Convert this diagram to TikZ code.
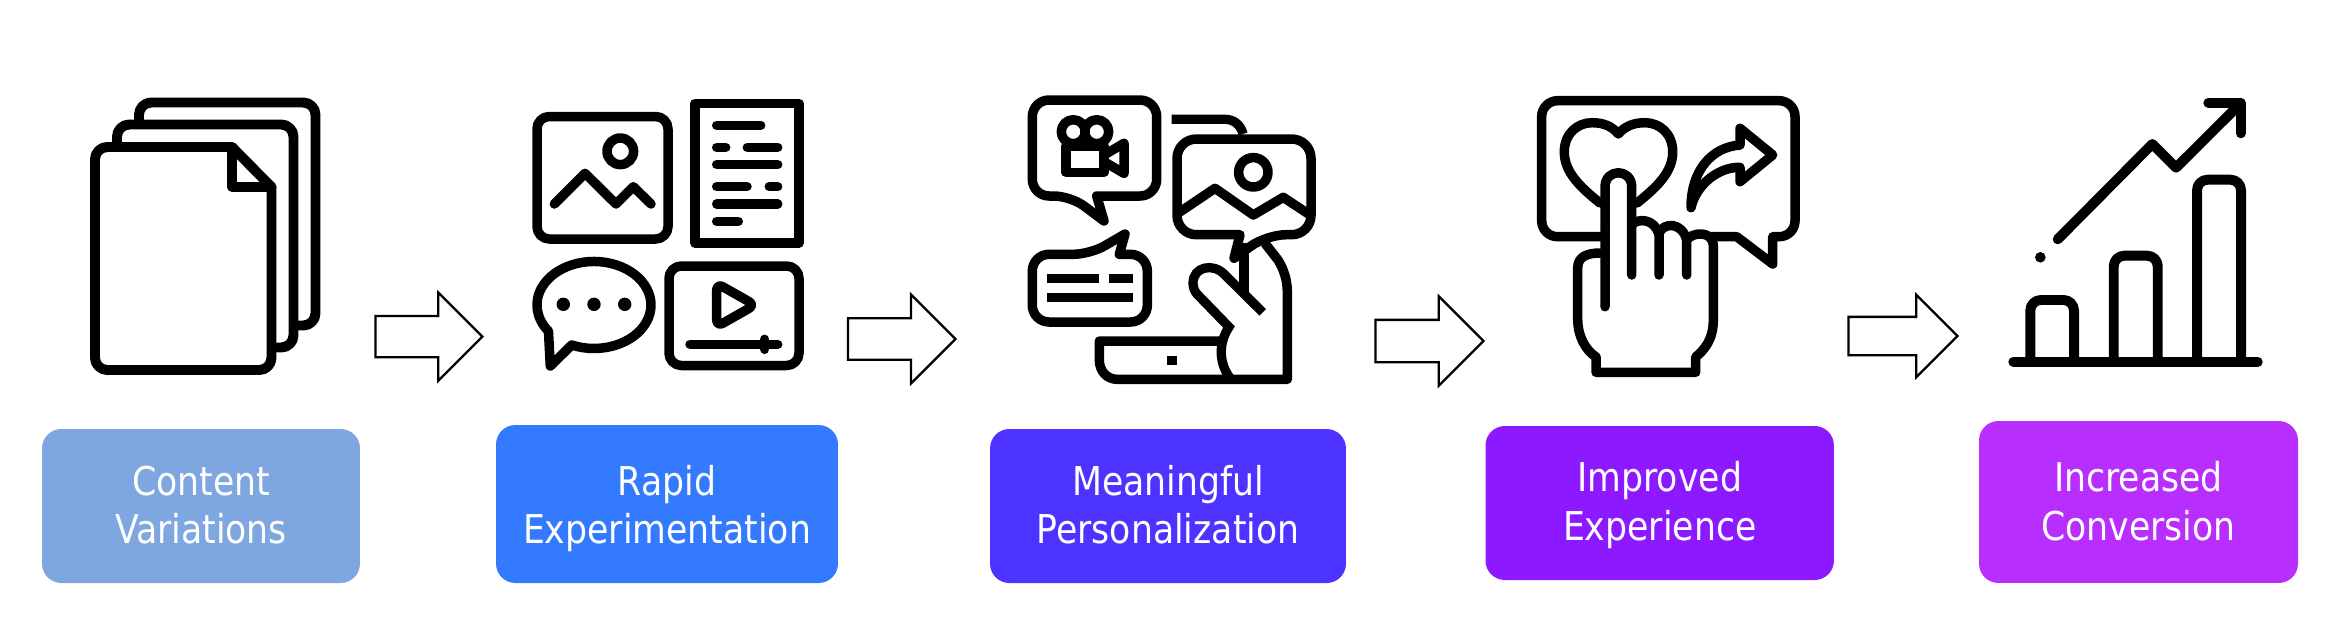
\documentclass[tikz,border=0pt]{standalone}
\usepackage{fontspec}
\setmainfont{DejaVu Sans}[FakeStretch=0.873]
\usetikzlibrary{shapes.arrows}
\definecolor{labA}{HTML}{7EA6E0}
\definecolor{labB}{HTML}{337AFF}
\definecolor{labC}{HTML}{4D33FF}
\definecolor{labD}{HTML}{8C19FF}
\definecolor{labE}{HTML}{B82EFF}
\newcommand{\twolines}[3]{\rule{0pt}{#1}#2\\\rule[-0.2cm]{0pt}{0.3cm}#3}
\begin{document}
\begin{tikzpicture}[x=0.02cm, y=-0.02cm,
  lab/.style={rounded corners=11pt, inner sep=0pt, align=center, text=white,
              font=\fontsize{22.6}{27.8}\selectfont},
  blk/.style={single arrow, draw, fill=white, line width=1.3pt, inner xsep=0pt,
              inner ysep=0.39cm, anchor=tip, single arrow head extend=0.47cm,
              minimum height=2.16cm, minimum width=1.78cm},
  ico/.style={line width=5.4pt, line join=round, line cap=round},
  thick ico/.style={line width=5.67pt, line join=round, line cap=round},
  bar ico/.style={line width=5.3pt, line join=miter, line cap=butt}]
  \useasboundingbox (0,0) rectangle (2328,620);
  \node[lab, fill=labA, minimum width=6.36cm, minimum height=3.08cm] (content) at (201,506) {\twolines{0.74cm}{Content}{Variations}};
  \node[lab, fill=labB, minimum width=6.84cm, minimum height=3.16cm] (rapid) at (667,504) {\twolines{0.82cm}{Rapid}{Experimentation}};
  \node[lab, fill=labC, minimum width=7.12cm, minimum height=3.08cm] (meaning) at (1168,506) {\twolines{0.74cm}{Meaningful}{Personalization}};
  \node[lab, fill=labD, minimum width=6.97cm, minimum height=3.08cm] (improved) at (1659.7,503) {\twolines{0.73cm}{Improved}{Experience}};
  \node[lab, fill=labE, minimum width=6.38cm, minimum height=3.24cm] (increased) at (2138.5,502) {\twolines{0.77cm}{Increased}{Conversion}};

  \node[blk, minimum height=2.14cm, minimum width=1.76cm] (arrA) at (484,336.7) {};
  \node[blk, minimum height=2.15cm] (arrB) at (957,339) {};
  \node[blk, inner ysep=0.4cm] (arrC) at (1485,341) {};
  \node[blk, inner ysep=0.36cm, minimum height=2.18cm, minimum width=1.64cm, single arrow head extend=0.44cm] (arrD) at (1959,336) {};

  % pages
  \begin{scope}[thick ico, rounded corners=7pt, fill=white]
    \draw[fill=white] (139,102.5) rectangle (315.5,325.5);
    \draw[fill=white] (117,124.5) rectangle (293.5,347.5);
    \draw[fill=white] (232,147) -- (95,147) -- (95,370) -- (271.5,370) [sharp corners] -- (271.5,187) -- cycle;
    \draw[sharp corners] (231.7,147) -- (231.7,186.7) -- (271.5,186.7);
  \end{scope}

  % media grid
  \begin{scope}[ico]
    \draw[rounded corners=7pt] (537,116.5) rectangle (668,239);
    \draw (620.3,151.3) circle[radius=13.3];
    \draw (554.3,204) -- (585,173.3) -- (616,204) -- (633.3,186.7) -- (651,204);
    \draw (695,103.5) rectangle (799,243);
    \draw (716.7,125.3) -- (760.7,125.3);
    \draw (716.7,147.3) -- (725.7,147.3) (747.3,147.3) -- (777.7,147.3);
    \draw (716.7,164.7) -- (777.7,164.7);
    \draw (716.7,186.7) -- (747,186.7) (769.3,186.7) -- (777.7,186.7);
    \draw (716.7,204) -- (777.7,204);
    \draw (716.7,221.3) -- (738.3,221.3);
    \draw (550.3,366) -- (571.7,345) arc[start angle=113, end angle=-217, x radius=57, y radius=43.5] -- cycle;
    \fill (563.3,304.3) circle[radius=6.7] (594,304.3) circle[radius=6.7] (624.7,304.3) circle[radius=6.7];
    \draw[rounded corners=7pt] (669,266) rectangle (799,365.5);
    \draw[rounded corners=4pt] (716.7,283.3) -- (755,305) -- (716.7,326.7) -- cycle;
    \draw (690,344.3) -- (777.7,344.3);
    \draw (764.7,339.3) -- (764.7,349.3);
  \end{scope}

  % speech bubbles and phone
  \begin{scope}[ico]
    \draw[rounded corners=9.5pt] (1096.7,196) -- (1156.7,196) -- (1156.7,100) -- (1032.3,100) -- (1032.3,196) -- (1070.7,196) [sharp corners] -- (1104,221) -- cycle;
    \draw (1073.3,131.7) circle[radius=12] (1096.7,131.7) circle[radius=12];
    \draw[fill=white] (1066,146) rectangle (1104,172.3);
    \draw (1104,155) -- (1124,143.3) -- (1124,173.3) -- (1104,161.7) -- cycle;
    \draw[rounded corners=9.5pt] (1119.3,254.3) -- (1147.3,254.3) -- (1147.3,322) -- (1032.3,322) -- (1032.3,254.3) -- (1090,254.3) [sharp corners] -- (1125,234) -- cycle;
    \draw[bar ico] (1046.7,278.3) -- (1099.3,278.3) (1109.3,278.3) -- (1133,278.3) (1046.7,297.7) -- (1133,297.7);
    \draw[bar ico] (1171.7,119.3) -- (1225,119.3) .. controls (1235,119.3) and (1241,126) .. (1243,134);
    \draw[rounded corners=11pt] (1240,234.7) -- (1177,234.7) -- (1177,139) -- (1311,139) -- (1311,234.7) -- (1266.7,234.7) [sharp corners] -- (1234,258.3) -- cycle;
    \draw (1253.3,172.3) circle[radius=14.7];
    \draw (1178.3,213) -- (1215,188.3) -- (1253.3,215) -- (1283.3,197.3) -- (1310,215);
    \draw[bar ico] (1244,243) -- (1244,293);
    \draw[bar ico] (1262.7,312.3) -- (1225,275) .. controls (1213,262) and (1193,267) .. (1193,283) .. controls (1193,288) and (1195,292) .. (1197,294) -- (1229,327) .. controls (1219,342) and (1218,362) .. (1230,378);
    \draw[line cap=butt] (1265,243.3) -- (1278,260) .. controls (1284,270) and (1287.3,280) .. (1287.3,292) -- (1287.3,379.3) -- (1117,379.3) .. controls (1107,379.3) and (1099.3,371) .. (1099.3,360) -- (1099.3,341) -- (1220,341);
    \fill (1166.7,355.7) rectangle (1176.7,365);
  \end{scope}

  % touch
  \begin{scope}[ico]
    \draw[rounded corners=9pt] (1600.7,236.7) -- (1541.7,236.7) -- (1541.7,100.7) -- (1795,100.7) -- (1795,236.7) [sharp corners] -- (1772.7,236.7) -- (1772.7,264) -- (1736.7,236.7) -- (1710,236.7);
    \draw (1600,203) .. controls (1580,187) and (1564.3,172) .. (1564.3,152) .. controls (1564.3,133) and (1578,122.7) .. (1592,122.7) .. controls (1603,122.7) and (1612,126) .. (1618.3,134) .. controls (1625,126) and (1634,122.7) .. (1645,122.7) .. controls (1659,122.7) and (1672.7,133) .. (1672.7,152) .. controls (1672.7,172) and (1657,187) .. (1637,203);
    \draw (1691,207.7) .. controls (1691,170) and (1712,147) .. (1740,145) -- (1740,128.3) -- (1772.7,155) -- (1740,181.7) -- (1740,167.3) .. controls (1718,167) and (1696,185) .. (1691,207.7) -- cycle;
    \draw (1605,306.7) -- (1605,187) .. controls (1605,168) and (1631.7,168) .. (1631.7,187) -- (1631.7,275);
    \draw (1631.7,225) .. controls (1637,218) and (1655,218) .. (1659,235) -- (1659,275);
    \draw (1659,233) .. controls (1664,222) and (1682,222) .. (1686.7,240) -- (1686.7,275);
    \draw (1686.7,240) .. controls (1692,232) and (1713,230) .. (1713.3,246) -- (1713.3,320) .. controls (1713.3,340) and (1704,350) .. (1695.7,357) -- (1695.7,372.3) -- (1596,372.3) -- (1596,357) .. controls (1585,350) and (1577.7,335) .. (1577.7,320) -- (1577.7,268) .. controls (1577.7,258) and (1585,253) .. (1600,253);
  \end{scope}

  % growth
  \begin{scope}[thick ico]
    \draw[rounded corners=6pt] (2030.3,361.7) -- (2030.3,300) -- (2074,300) -- (2074,361.7);
    \draw[rounded corners=6pt] (2113.7,361.7) -- (2113.7,255.7) -- (2157.7,255.7) -- (2157.7,361.7);
    \draw[rounded corners=6pt] (2197,361.7) -- (2197,179.7) -- (2241,179.7) -- (2241,361.7);
    \draw (2013.3,361.7) -- (2257.7,361.7);
    \draw (2057.7,239.3) -- (2152.3,144) -- (2176,167.7) -- (2240.7,103.3);
    \draw (2208.3,102.7) -- (2240.7,102.7) -- (2240.7,133.3);
    \fill (2040.3,257.3) circle[radius=5.3];
  \end{scope}
\end{tikzpicture}
\end{document}
